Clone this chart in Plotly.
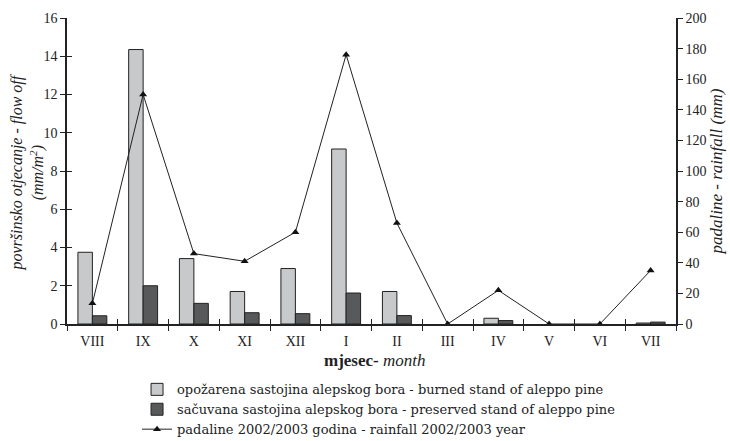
import plotly.graph_objects as go

months = ["VIII", "IX", "X", "XI", "XII", "I", "II", "III", "IV", "V", "VI", "VII"]
burned = [3.75, 14.35, 3.42, 1.7, 2.9, 9.15, 1.7, 0, 0.3, 0, 0, 0.05]
preserved = [0.43, 2.0, 1.08, 0.59, 0.54, 1.62, 0.44, 0, 0.18, 0, 0, 0.1]
rainfall = [13.5, 150, 46, 41, 60, 176, 66, 0, 22, 0, 0, 35]

FONT = "Liberation Serif"
XRANGE = [-0.5, len(months) - 0.5]

def outline_widths(vals):
    return [1 if v > 0 else 0 for v in vals]

fig = go.Figure()
fig.add_trace(go.Bar(
    x=months, y=burned, name="opožarena sastojina alepskog bora - burned stand of aleppo pine",
    marker=dict(color="#c8c9cb", line=dict(color="#222", width=outline_widths(burned))),
))
fig.add_trace(go.Bar(
    x=months, y=preserved, name="sačuvana sastojina alepskog bora - preserved stand of aleppo pine",
    marker=dict(color="#58595b", line=dict(color="#222", width=outline_widths(preserved))),
))
fig.add_trace(go.Scatter(
    x=months, y=rainfall, yaxis="y2", mode="lines+markers",
    name="padaline 2002/2003 godina - rainfall 2002/2003 year",
    line=dict(color="#222", width=1),
    marker=dict(symbol="triangle-up", size=7, color="#111"),
))
# invisible trace so the overlay x axis carries the same categories
fig.add_trace(go.Scatter(x=months, y=[None]*len(months), xaxis="x2", yaxis="y3",
                         showlegend=False, hoverinfo="skip"))

fig.update_layout(
    width=730, height=441,
    margin=dict(l=67, r=54, t=18, b=117),
    paper_bgcolor="white", plot_bgcolor="white",
    font=dict(family=FONT, size=14, color="#222"),
    barmode="group", bargap=0.43, bargroupgap=0,
    showlegend=True,
    legend=dict(x=0.115, y=0.151, xref="paper", yref="container",
                xanchor="left", yanchor="top",
                font=dict(size=13, family="DejaVu Serif"), tracegroupgap=0,
                itemwidth=30, bgcolor="rgba(0,0,0,0)"),
    xaxis=dict(
        categoryorder="array", categoryarray=months, automargin=False, range=XRANGE,
        showline=True, linecolor="#222", linewidth=1.5,
        ticks="outside", ticklen=5, tickcolor="#222", tickson="boundaries",
        tickfont=dict(size=14), ticklabelstandoff=3,
        showgrid=False, zeroline=False,
    ),
    xaxis2=dict(
        overlaying="x", anchor="y3", categoryorder="array", categoryarray=months, range=XRANGE,
        showline=False, ticks="inside", ticklen=5, tickcolor="#222", tickson="boundaries",
        showticklabels=False, showgrid=False, zeroline=False, automargin=False,
    ),
    yaxis=dict(
        range=[0, 16], dtick=2, showline=True, linecolor="#222", linewidth=1.5,
        ticks="outside", ticklen=5, tickcolor="#222", automargin=False,
        showgrid=False, zeroline=False, tickfont=dict(size=14),
    ),
    yaxis3=dict(
        range=[0, 16], dtick=2, overlaying="y", side="left", anchor="x2",
        ticks="inside", ticklen=5, tickcolor="#222", automargin=False,
        showticklabels=False, showgrid=False, zeroline=False, showline=False,
    ),
    yaxis2=dict(
        range=[0, 200], dtick=20, overlaying="y", side="right",
        showline=True, linecolor="#222", linewidth=1.5, automargin=False,
        ticks="outside", ticklen=5, tickcolor="#222",
        showgrid=False, zeroline=False, tickfont=dict(size=14),
        title=dict(text="<i>padaline - rainfall (mm)</i>", font=dict(size=17), standoff=0),
    ),
    annotations=[
        dict(
            text="<i>površinsko otjecanje - flow off</i><br><i>(mm/m<sup>2</sup>)</i>",
            xref="paper", yref="paper", x=0, y=0.495, xshift=-39,
            xanchor="center", yanchor="middle", textangle=-90, showarrow=False,
            font=dict(size=16, family=FONT),
        ),
        dict(
            text="<b>mjesec-</b> <i>month</i>",
            xref="paper", yref="paper", x=0.505, y=0, yshift=-36,
            xanchor="center", yanchor="middle", showarrow=False,
            font=dict(size=17, family=FONT),
        ),
    ],
)

fig.write_html("out.html", config={"displayModeBar": False},
               post_script="document.body.style.margin='0';document.body.style.overflow='hidden';")
